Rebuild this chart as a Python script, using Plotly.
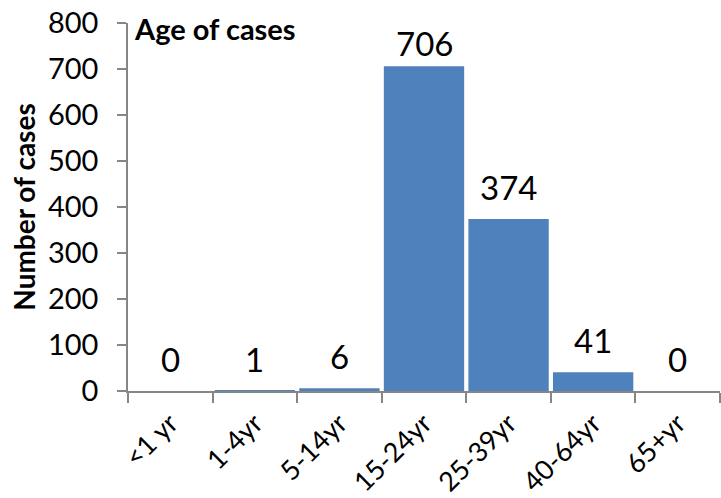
import plotly.graph_objects as go

categories = ["<1 yr", "1-4yr", "5-14yr", "15-24yr", "25-39yr", "40-64yr", "65+yr"]
cases = [0, 1, 6, 706, 374, 41, 0]
y_ticks = [0, 100, 200, 300, 400, 500, 600, 700, 800]
y_max = 800

FONT = "Lato"
AXIS_COLOR = "#868686"

fig = go.Figure()
fig.add_trace(go.Bar(
    x=categories, y=cases,
    marker=dict(color="#4F81BD", line=dict(width=0)),
    hoverinfo="x+y",
))

for c, v in zip(categories, cases):
    if v > 0.85 * y_max:
        # label would leave the plot area: keep it inside, pinned to the top
        fig.add_annotation(
            x=c, y=1, yref="y domain", text=str(v), showarrow=False,
            yanchor="top", yshift=2,
            font=dict(family=FONT, size=33, color="#000000"),
        )
    else:
        fig.add_annotation(
            x=c, y=v, text=str(v), showarrow=False,
            yanchor="bottom", yshift=10,
            font=dict(family=FONT, size=33, color="#000000"),
        )

fig.add_annotation(
    xref="paper", yref="paper", x=0.006, y=0.985,
    xanchor="left", yanchor="middle",
    text="<b>Age of cases</b>", showarrow=False,
    font=dict(family=FONT, size=29, color="#000000"),
)

fig.update_layout(
    width=721, height=498,
    margin=dict(l=128, r=1, t=23, b=107),
    paper_bgcolor="white", plot_bgcolor="white",
    bargap=0.05,
    showlegend=False,
    font=dict(family=FONT, color="#000000"),
)
fig.update_xaxes(
    type="category", automargin=False,
    showline=True, linecolor=AXIS_COLOR, linewidth=1.5,
    ticks="outside", tickson="boundaries", ticklen=10, tickcolor=AXIS_COLOR, tickwidth=1.5,
    tickangle=-45, tickfont=dict(family=FONT, size=27, color="#000000"),
    ticklabelstandoff=4, ticklabeloverflow="allow",
    showgrid=False,
)
fig.update_yaxes(
    range=[0, y_max], tickvals=y_ticks, automargin=False,
    showline=True, linecolor=AXIS_COLOR, linewidth=1.5,
    ticks="outside", ticklen=9, tickcolor=AXIS_COLOR, tickwidth=1.5,
    tickfont=dict(family=FONT, size=29, color="#000000"),
    ticklabelstandoff=13, ticklabeloverflow="allow",
    showgrid=False, zeroline=False,
    title=dict(text="<b>Number of cases</b>", font=dict(family=FONT, size=28, color="#000000"), standoff=4),
)

# remove the page's default body margin so the figure fills the window
fig.write_html(
    "out.html",
    config={"displayModeBar": False},
    post_script="document.body.style.margin='0';",
)
